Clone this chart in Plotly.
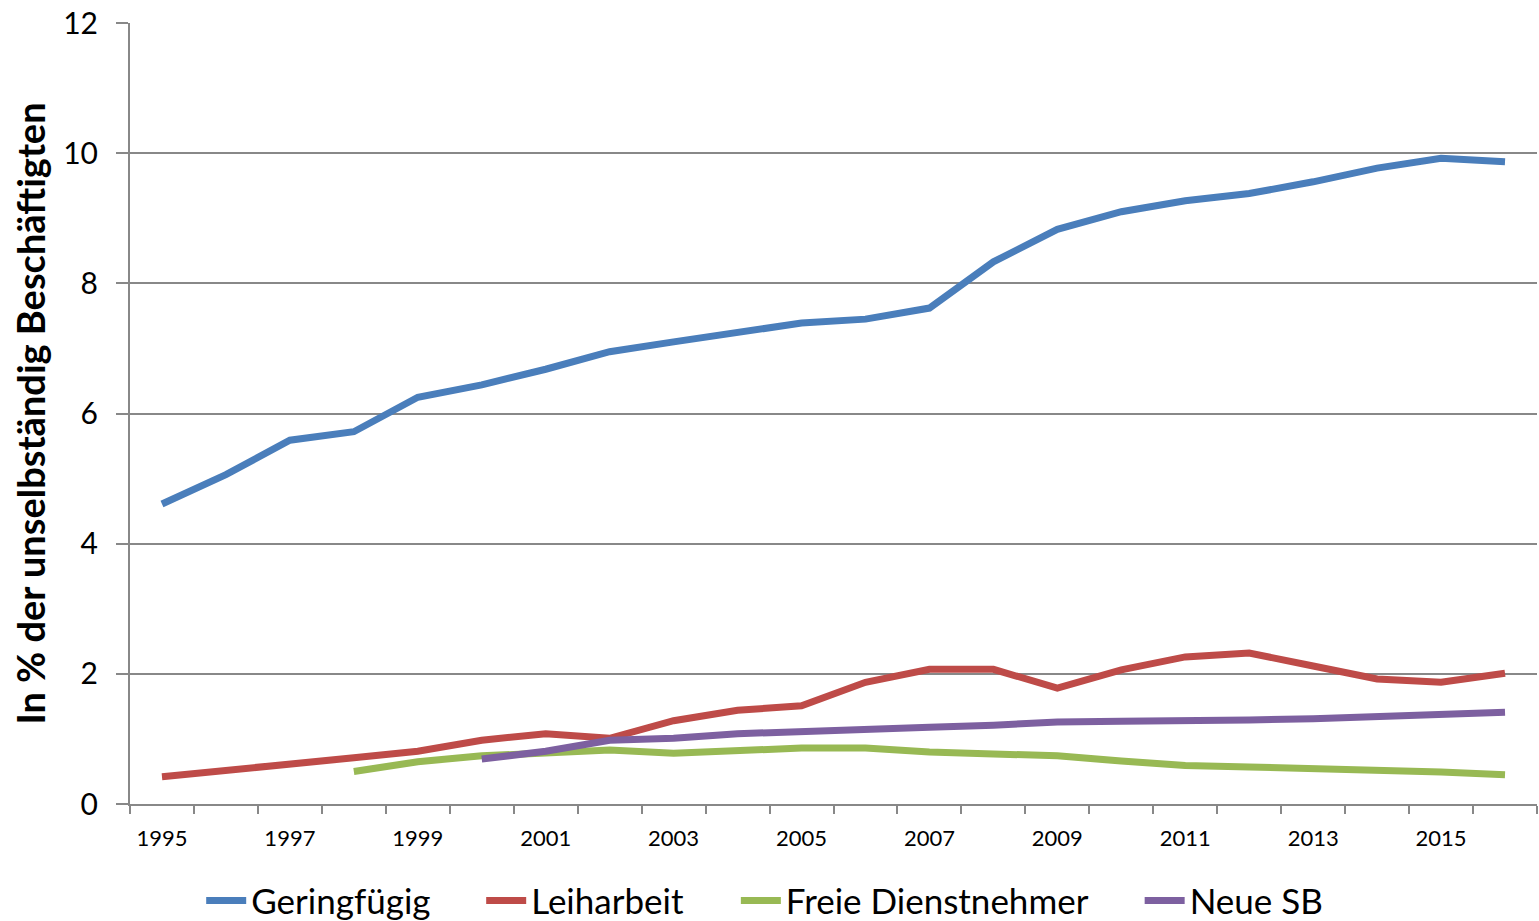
import plotly.graph_objects as go

years = list(range(1995, 2017))

geringfuegig = [4.61, 5.06, 5.59, 5.72, 6.25, 6.44, 6.68, 6.95, 7.10, 7.24, 7.39,
                7.45, 7.62, 8.33, 8.83, 9.10, 9.27, 9.38, 9.56, 9.77, 9.92, 9.87]
leiharbeit = [0.42, 0.51, 0.61, 0.71, 0.81, 0.98, 1.08, 1.01, 1.28, 1.44, 1.51,
              1.87, 2.07, 2.07, 1.78, 2.06, 2.26, 2.32, 2.12, 1.92, 1.87, 2.01]
freie_dn = [None, None, None, 0.50, 0.65, 0.74, 0.78, 0.83, 0.78, 0.83, 0.86,
            0.86, 0.80, 0.77, 0.74, 0.66, 0.59, 0.57, 0.55, 0.52, 0.49, 0.45]
neue_sb = [None, None, None, None, None, 0.69, 0.81, 0.98, 1.01, 1.08, 1.12,
           1.15, 1.18, 1.21, 1.26, 1.27, 1.27, 1.29, 1.31, 1.34, 1.37, 1.41]

series = [
    ("Geringfügig", geringfuegig, "#4A7EBB"),
    ("Leiharbeit", leiharbeit, "#BE4B48"),
    ("Freie Dienstnehmer", freie_dn, "#98B954"),
    ("Neue SB", neue_sb, "#7D60A0"),
]

x_labels = [str(y) for y in range(1995, 2017, 2)]

# each series gets its own legend box so the entries can be spaced freely
legend_ids = ["legend", "legend2", "legend3", "legend4"]
legend_x = [0.0506, 0.2496, 0.4306, 0.7176]

font_family = "Lato, 'Open Sans', sans-serif"

fig = go.Figure()
for (name, vals, col), lid in zip(series, legend_ids):
    fig.add_trace(go.Scatter(
        x=years, y=vals, name=name, mode="lines",
        line=dict(color=col, width=7),
        connectgaps=False, legend=lid,
    ))

legend_style = dict(
    orientation="h", xanchor="left",
    yref="container", y=0.022, yanchor="middle",
    font=dict(size=35, family=font_family, color="black"),
    itemwidth=40, bgcolor="rgba(0,0,0,0)",
)
for lid, lx in zip(legend_ids, legend_x):
    fig.update_layout({lid: dict(legend_style, x=lx)})

fig.update_layout(
    width=1539, height=921,
    margin=dict(l=130, r=2, t=23, b=117, autoexpand=False),
    paper_bgcolor="white", plot_bgcolor="white",
    font=dict(family=font_family, color="black"),
    showlegend=True,
    xaxis=dict(
        range=[1994.5, 2016.5],
        tickmode="array",
        tickvals=list(range(1995, 2017, 2)),
        ticktext=x_labels,
        ticks="", showgrid=False,
        tickfont=dict(size=22, family=font_family),
        ticklabelstandoff=14,
        showline=True, linecolor="#888888", linewidth=2,
        minor=dict(ticks="outside", tick0=1994.5, dtick=1, ticklen=8,
                   tickcolor="#888888", tickwidth=2, showgrid=False),
        zeroline=False,
    ),
    yaxis=dict(
        range=[0, 12], dtick=2,
        ticks="outside", ticklen=12, tickcolor="#888888", tickwidth=2,
        showgrid=True, gridcolor="#888888", gridwidth=2,
        showline=True, linecolor="#888888", linewidth=2,
        zeroline=False,
        tickfont=dict(size=30, family=font_family),
        ticklabelstandoff=12,
        title=dict(text="<b>In % der unselbständig Beschäftigten</b>",
                   font=dict(size=38, family=font_family), standoff=6),
    ),
)

fig.write_html("out.html")
